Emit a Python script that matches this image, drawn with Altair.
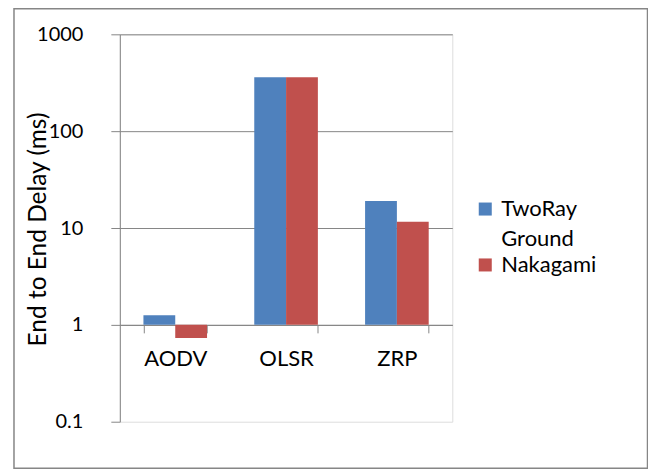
import altair as alt
import pandas as pd

protocols = ["AODV", "OLSR", "ZRP"]
series = ["TwoRay Ground", "Nakagami"]
tworay = [1.26, 360, 19]
nakagami = [0.73, 360, 11.6]
y_ticks = [0.1, 1, 10, 100, 1000]
colors = ["#4F81BD", "#C0504D"]

rows = []
for p, a, b in zip(protocols, tworay, nakagami):
    rows.append({"protocol": p, "model": series[0], "delay": a})
    rows.append({"protocol": p, "model": series[1], "delay": b})
df = pd.DataFrame(rows)

FONT = "Lato"
GRAY = "#868686"

bars = alt.Chart(df).mark_bar(clip=False).encode(
    x=alt.X("protocol:N", sort=protocols,
            scale=alt.Scale(paddingInner=0.426, paddingOuter=0.213),
            axis=alt.Axis(title=None, labelAngle=0, offset=-97, tickBand="extent",
                          tickSize=8, labelPadding=16, domainColor=GRAY, tickColor=GRAY,
                          labelFont=FONT, labelFontSize=22, labelColor="#000",
                          grid=False)),
    xOffset=alt.XOffset("model:N", sort=series),
    y=alt.Y("delay:Q",
            scale=alt.Scale(type="log", domain=[0.1, 1000], nice=False),
            axis=alt.Axis(values=y_ticks, format="~g", title="End to End Delay (ms)",
                          tickSize=9, labelPadding=28, domainColor=GRAY, tickColor=GRAY,
                          gridColor=GRAY, labelFont=FONT, labelFontSize=20, labelColor="#000",
                          titleFont=FONT, titleFontSize=24.5, titleFontWeight="normal",
                          titleColor="#000", titleAngle=270, titleX=-81, titleY=195,
                          titleAlign="center", titleBaseline="middle",
                          gridOpacity={"condition": {"test": "datum.value < 0.5", "value": 0}, "value": 1})),
    y2=alt.datum(1),
    color=alt.Color("model:N", sort=series,
                    scale=alt.Scale(domain=series, range=colors),
                    legend=alt.Legend(title=None, orient="none", legendX=355, legendY=164,
                                      symbolType="square", symbolSize=170, symbolStrokeWidth=0,
                                      labelFont=FONT, labelFontSize=22, labelColor="#000",
                                      labelOffset=5,
                                      labelExpr="datum.label == 'TwoRay Ground' ? ['TwoRay', 'Ground'] : datum.label",
                                      rowPadding=4)),
)

border = alt.Chart(alt.Data(values=[{}])).mark_rect(
    filled=False, stroke=GRAY, strokeWidth=1.5, clip=False
).encode(
    x=alt.value(-106), x2=alt.value(528.5), y=alt.value(-25.5), y2=alt.value(434.5)
)

chart = alt.layer(bars, border).properties(
    width=333, height=388,
    autosize=alt.AutoSizeParams(type="none"),
    padding={"left": 112, "top": 26, "right": 196, "bottom": 47},
).configure_view(stroke=None).configure(style={"guide-label": {"lineHeight": 30}})

chart.save("out.html", embed_options={"renderer": "svg", "actions": False})
